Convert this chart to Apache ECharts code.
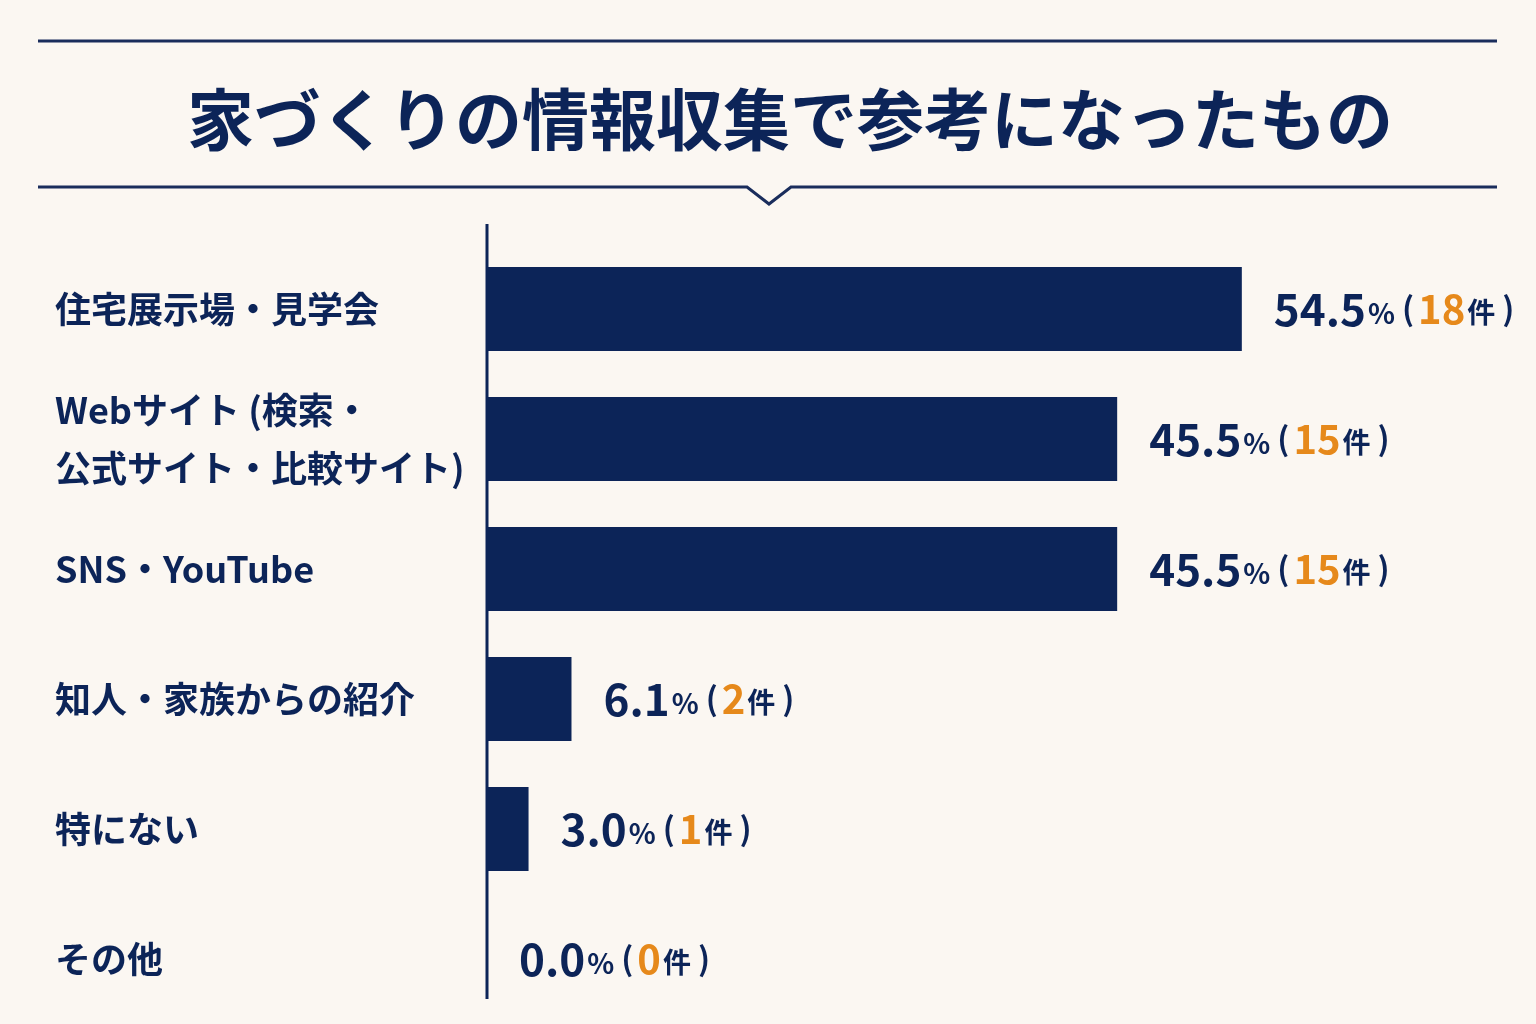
<!DOCTYPE html>
<html>
<head>
<meta charset="utf-8">
<script src="https://cdn.jsdelivr.net/npm/echarts@6/dist/echarts.min.js"></script>
<style>
  html, body { margin: 0; padding: 0; background: #fbf7f2; }
  #main { width: 1536px; height: 1024px; }
</style>
</head>
<body>
<div id="main"></div>
<script>
// データ
var categories = ['住宅展示場・見学会', 'Webサイト (検索・\n公式サイト・比較サイト)', 'SNS・YouTube', '知人・家族からの紹介', '特にない', 'その他'];
var percents = [54.5, 45.5, 45.5, 6.1, 3.0, 0.0];
var counts = [18, 15, 15, 2, 1, 0];

var navy = '#0c2458';
var orange = '#e6891b';
var jp = '"Noto Sans CJK JP", "Noto Sans", sans-serif';

var myChart = echarts.init(document.getElementById('main'));
var option = {
    backgroundColor: '#fbf7f2',
    animation: false,
    grid: { left: 487, top: 244, width: 831, height: 780 },
    xAxis: {
        type: 'value',
        min: 0,
        max: 60,
        show: false
    },
    yAxis: {
        type: 'category',
        inverse: true,
        data: categories,
        axisLine: { show: false },
        axisTick: { show: false },
        axisLabel: {
            align: 'left',
            margin: 432,
            color: navy,
            fontFamily: jp,
            fontWeight: 'bold',
            fontSize: 36,
            lineHeight: 58
        }
    },
    series: [{
        type: 'bar',
        data: percents,
        barWidth: 84,
        itemStyle: { color: navy },
        label: {
            show: true,
            position: 'right',
            distance: 32,
            formatter: function (p) {
                return '{num|' + p.value.toFixed(1) + '}{pct|%}{par|(}{cnt|' + counts[p.dataIndex] + '}{ken|件}{par|)}';
            },
            rich: {
                num: { color: navy, fontFamily: jp, fontWeight: 'bold', fontSize: 44 },
                pct: { color: navy, fontFamily: jp, fontWeight: 'bold', fontSize: 28, padding: [8, 0, 0, 2] },
                par: { color: navy, fontFamily: jp, fontWeight: 'bold', fontSize: 32, padding: [0, 4, 0, 7] },
                cnt: { color: orange, fontFamily: jp, fontWeight: 'bold', fontSize: 40 },
                ken: { color: navy, fontFamily: jp, fontWeight: 'bold', fontSize: 28, padding: [6, 0, 0, 2] }
            }
        }
    }],
    graphic: [
        // 見出しの上下の線
        { type: 'line', shape: { x1: 38, y1: 41, x2: 1497, y2: 41 }, style: { stroke: '#1a2d5c', lineWidth: 3 } },
        { type: 'polyline', shape: { points: [[38, 187], [747, 187], [769, 204], [791, 187], [1497, 187]] }, style: { stroke: '#1a2d5c', lineWidth: 3, fill: null } },
        {
            type: 'text', x: 790, y: 120,
            style: {
                text: '家づくりの情報収集で参考になったもの',
                fill: navy,
                font: 'bold 67px "Noto Sans CJK JP", sans-serif',
                textAlign: 'center',
                textVerticalAlign: 'middle'
            }
        },
        // 縦軸の線
        { type: 'line', shape: { x1: 487, y1: 224, x2: 487, y2: 999 }, style: { stroke: navy, lineWidth: 3 } }
    ]
};
myChart.setOption(option);
</script>
</body>
</html>
